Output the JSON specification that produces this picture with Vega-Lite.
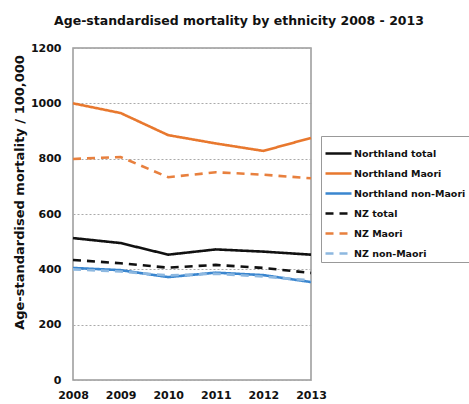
{
  "$schema": "https://vega.github.io/schema/vega-lite/v6.json",
  "autosize": {"type": "none"},
  "width": 238,
  "height": 332,
  "padding": {"left": 73, "top": 48, "right": 158, "bottom": 24},
  "background": "white",
  "title": {
    "text": "Age-standardised mortality by ethnicity 2008 - 2013",
    "font": "DejaVu Sans",
    "fontSize": 12.5,
    "fontWeight": "bold",
    "color": "#111",
    "anchor": "middle",
    "dx": 47,
    "offset": 15
  },
  "config": {
    "view": {"stroke": "#999", "strokeWidth": 1.5},
    "axis": {
      "labelFont": "DejaVu Sans",
      "labelFontWeight": "bold",
      "labelFontSize": 11,
      "labelColor": "#111",
      "titleFont": "DejaVu Sans",
      "titleFontWeight": "bold",
      "titleFontSize": 13,
      "titleColor": "#111",
      "domain": false,
      "ticks": false
    }
  },
  "data": {
    "values": [
      {"year": 2008, "series": "Northland total", "value": 513},
      {"year": 2009, "series": "Northland total", "value": 495},
      {"year": 2010, "series": "Northland total", "value": 453},
      {"year": 2011, "series": "Northland total", "value": 472},
      {"year": 2012, "series": "Northland total", "value": 464},
      {"year": 2013, "series": "Northland total", "value": 453},
      {"year": 2008, "series": "Northland Maori", "value": 1000},
      {"year": 2009, "series": "Northland Maori", "value": 965},
      {"year": 2010, "series": "Northland Maori", "value": 885},
      {"year": 2011, "series": "Northland Maori", "value": 855},
      {"year": 2012, "series": "Northland Maori", "value": 828},
      {"year": 2013, "series": "Northland Maori", "value": 875},
      {"year": 2008, "series": "Northland non-Maori", "value": 405},
      {"year": 2009, "series": "Northland non-Maori", "value": 397},
      {"year": 2010, "series": "Northland non-Maori", "value": 372},
      {"year": 2011, "series": "Northland non-Maori", "value": 388},
      {"year": 2012, "series": "Northland non-Maori", "value": 379},
      {"year": 2013, "series": "Northland non-Maori", "value": 354},
      {"year": 2008, "series": "NZ total", "value": 434},
      {"year": 2009, "series": "NZ total", "value": 422},
      {"year": 2010, "series": "NZ total", "value": 406},
      {"year": 2011, "series": "NZ total", "value": 416},
      {"year": 2012, "series": "NZ total", "value": 405},
      {"year": 2013, "series": "NZ total", "value": 387},
      {"year": 2008, "series": "NZ Maori", "value": 799},
      {"year": 2009, "series": "NZ Maori", "value": 806},
      {"year": 2010, "series": "NZ Maori", "value": 733},
      {"year": 2011, "series": "NZ Maori", "value": 751},
      {"year": 2012, "series": "NZ Maori", "value": 742},
      {"year": 2013, "series": "NZ Maori", "value": 729},
      {"year": 2008, "series": "NZ non-Maori", "value": 400},
      {"year": 2009, "series": "NZ non-Maori", "value": 392},
      {"year": 2010, "series": "NZ non-Maori", "value": 378},
      {"year": 2011, "series": "NZ non-Maori", "value": 384},
      {"year": 2012, "series": "NZ non-Maori", "value": 374},
      {"year": 2013, "series": "NZ non-Maori", "value": 360}
    ]
  },
  "mark": {"type": "line", "strokeWidth": 2.6},
  "encoding": {
    "x": {
      "field": "year",
      "type": "quantitative",
      "scale": {"domain": [2008, 2013], "nice": false, "zero": false},
      "axis": {"title": null, "values": [2008, 2009, 2010, 2011, 2012, 2013], "format": "d", "grid": false, "labelPadding": 9, "labelFlush": false}
    },
    "y": {
      "field": "value",
      "type": "quantitative",
      "scale": {"domain": [0, 1200], "nice": false},
      "axis": {
        "title": "Age-standardised mortality / 100,000",
        "values": [0, 200, 400, 600, 800, 1000, 1200],
        "format": "d",
        "grid": true,
        "gridColor": "#aaa",
        "gridDash": [2, 2],
        "gridWidth": 1,
        "labelPadding": 12,
        "titleX": -47,
        "titleY": 144,
        "titleAngle": -90
      }
    },
    "color": {
      "field": "series",
      "type": "nominal",
      "scale": {
        "domain": ["Northland total", "Northland Maori", "Northland non-Maori", "NZ total", "NZ Maori", "NZ non-Maori"],
        "range": ["#111111", "#E8782E", "#3A86CF", "#111111", "#E8803E", "#8DB8E0"]
      },
      "legend": {
        "title": null,
        "orient": "none",
        "legendX": 248,
        "legendY": 88,
        "symbolType": "stroke",
        "symbolSize": 676,
        "symbolStrokeWidth": 2.5,
        "labelFont": "DejaVu Sans",
        "labelFontWeight": "bold",
        "labelFontSize": 9.5,
        "labelColor": "#111",
        "labelOffset": 1,
        "rowPadding": -6,
        "strokeColor": "#999",
        "padding": 3
      }
    },
    "strokeDash": {
      "field": "series",
      "type": "nominal",
      "scale": {
        "domain": ["Northland total", "Northland Maori", "Northland non-Maori", "NZ total", "NZ Maori", "NZ non-Maori"],
        "range": [[1, 0], [1, 0], [1, 0], [8, 6], [8, 6], [8, 6]]
      },
      "legend": null
    }
  }
}
